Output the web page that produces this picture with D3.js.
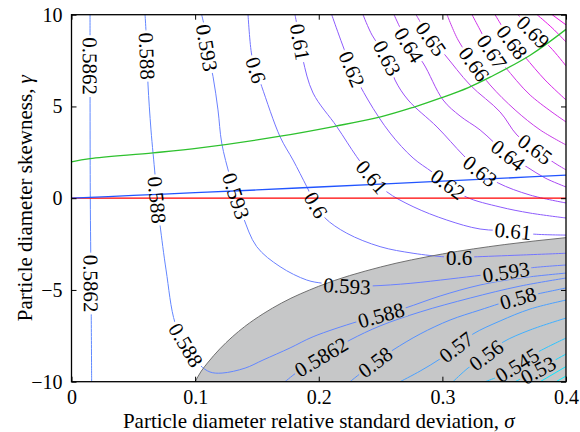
<!DOCTYPE html>
<html>
<head>
<meta charset="utf-8">
<script src="https://cdn.jsdelivr.net/npm/d3@7"></script>
<style>
  body { margin: 0; background: #fff; }
  svg text { font-family: "Liberation Serif", "Times New Roman", serif; fill: #000; }
</style>
</head>
<body>
<svg id="chart" width="580" height="432"></svg>
<script>
const xTicks = [0, 0.1, 0.2, 0.3, 0.4];
const yTicks = [-10, -5, 0, 5, 10];

// contour lines, [sigma, gamma] points
const c5862a = [[0.0150, 10], [0.0150, 7.20], [0.0152, 0], [0.0158, -4.65], [0.0163, -10]];
const c5862b = [[0.1727, -10], [0.1849, -9.36], [0.2019, -8.65], [0.2253, -7.73], [0.2496, -6.96], [0.2820, -6.20], [0.3225, -5.44], [0.3629, -4.79], [0.4001, -4.35]];
const c588 = [[0.0595, 10], [0.0603, 9.06], [0.0611, 7.75], [0.0619, 6.17], [0.0643, 3.72], [0.0676, 1.26], [0.0692, -0.10], [0.0716, -1.46], [0.0765, -3.91], [0.0838, -6.80], [0.0926, -8.00], [0.1039, -9.09], [0.1120, -9.47], [0.1218, -9.53], [0.1404, -9.26], [0.1549, -8.82], [0.1768, -8.16], [0.1954, -7.55], [0.2310, -6.73], [0.2504, -6.37], [0.2698, -5.99], [0.2982, -5.33], [0.3305, -4.73], [0.3629, -4.35], [0.4001, -4.08]];
const c58 = [[0.2253, -10], [0.2456, -8.93], [0.2601, -8.27], [0.2820, -7.40], [0.3062, -6.64], [0.3305, -6.09], [0.3612, -5.44], [0.3766, -5.22], [0.4001, -4.89]];
const c57 = [[0.2658, -10], [0.2820, -9.42], [0.2981, -8.76], [0.3111, -8.11], [0.3248, -7.40], [0.3467, -6.69], [0.3710, -6.04], [0.4001, -5.55]];
const c56 = [[0.3086, -10], [0.3208, -9.25], [0.3354, -8.55], [0.3491, -7.84], [0.3710, -7.18], [0.4001, -6.53]];
const c545 = [[0.3345, -10], [0.3443, -9.74], [0.3604, -9.09], [0.3774, -8.38], [0.4001, -7.62]];
const c53 = [[0.3588, -10], [0.3774, -9.36], [0.3928, -8.76], [0.4001, -8.49]];
const c515 = [[0.3791, -10], [0.4001, -9.17]];
const c50 = [[0.3920, -10], [0.4001, -9.69]];
const c593 = [[0.1053, 10], [0.1080, 9.17], [0.1096, 8.19], [0.1145, 6.62], [0.1185, 4.81], [0.1215, 3.01], [0.1282, 1.17], [0.1331, 0.12], [0.1388, -1.01], [0.1498, -2.64], [0.1687, -3.73], [0.1903, -4.46], [0.2035, -4.64], [0.2229, -4.78], [0.2431, -4.78], [0.2739, -4.64], [0.3062, -4.40], [0.3321, -4.19], [0.3515, -4.02], [0.3710, -3.80], [0.4001, -3.64]];
const c60 = [[0.1428, 10], [0.1458, 7.80], [0.1493, 6.99], [0.1539, 6.08], [0.1687, 3.35], [0.1792, 2.08], [0.1903, 0.63], [0.1978, -0.37], [0.2051, -1.08], [0.2227, -1.91], [0.2496, -2.64], [0.2763, -3.00], [0.3022, -3.20], [0.3135, -3.23], [0.3248, -3.20], [0.3629, -3.10], [0.4001, -3.00]];
const c61 = [[0.1808, 10], [0.1849, 8.51], [0.1873, 7.53], [0.1954, 5.73], [0.2146, 3.90], [0.2307, 2.26], [0.2431, 1.16], [0.2550, 0.35], [0.2763, -0.46], [0.3036, -1.19], [0.3305, -1.68], [0.3572, -1.79], [0.3726, -1.95], [0.4001, -2.01]];
const c62 = [[0.2105, 10], [0.2269, 7.04], [0.2399, 5.35], [0.2577, 3.55], [0.2763, 2.19], [0.2917, 1.43], [0.3046, 0.77], [0.3192, 0.07], [0.3467, -0.48], [0.3710, -0.81], [0.4001, -1.08]];
const c63 = [[0.2358, 10], [0.2431, 8.89], [0.2553, 7.64], [0.2617, 6.44], [0.2723, 5.35], [0.2957, 3.88], [0.3168, 2.35], [0.3305, 1.48], [0.3451, 0.83], [0.3710, 0.17], [0.4001, -0.26]];
const c64 = [[0.2609, 10], [0.2731, 8.35], [0.2844, 7.37], [0.3006, 5.35], [0.3143, 4.48], [0.3305, 3.72], [0.3532, 2.35], [0.3685, 1.70], [0.3831, 1.10], [0.4001, 0.61]];
const c65 = [[0.2787, 10], [0.2909, 8.68], [0.3022, 7.80], [0.3224, 6.17], [0.3467, 4.70], [0.3604, 3.44], [0.3750, 2.68], [0.3896, 1.97], [0.4001, 1.54]];
const c66 = [[0.3038, 10], [0.3127, 8.62], [0.3257, 7.31], [0.3386, 6.17], [0.3588, 4.81], [0.3791, 3.72], [0.4001, 2.90]];
const c67 = [[0.3240, 10], [0.3305, 9.17], [0.3402, 7.97], [0.3507, 7.15], [0.3710, 5.62], [0.4001, 4.15]];
const c68 = [[0.3426, 10], [0.3491, 9.28], [0.3564, 8.51], [0.3669, 7.69], [0.3831, 6.44], [0.4001, 5.35]];
const c69 = [[0.3612, 10], [0.3734, 9.06], [0.3871, 8.24], [0.4001, 7.20]];
const c70 = [[0.3766, 10], [0.3888, 9.28], [0.4001, 8.51]];
const c71 = [[0.3888, 10], [0.4001, 9.44]];

// level, points, indexes of the points that carry a label
const contours = [
  { level: 0.50, pts: c50, labels: [] },
  { level: 0.515, pts: c515, labels: [] },
  { level: 0.53, pts: c53, labels: [1] },
  { level: 0.545, pts: c545, labels: [2] },
  { level: 0.56, pts: c56, labels: [2] },
  { level: 0.57, pts: c57, labels: [3] },
  { level: 0.58, pts: c58, labels: [1, 6] },
  { level: 0.5862, pts: c5862a, labels: [1, 3] },
  { level: 0.5862, pts: c5862b, labels: [2] },
  { level: 0.588, pts: c588, labels: [2, 6, 10, 19] },
  { level: 0.593, pts: c593, labels: [2, 7, 13, 18] },
  { level: 0.6, pts: c60, labels: [2, 7, 13] },
  { level: 0.61, pts: c61, labels: [1, 6, 11] },
  { level: 0.62, pts: c62, labels: [1, 6] },
  { level: 0.63, pts: c63, labels: [2, 7] },
  { level: 0.64, pts: c64, labels: [1, 6] },
  { level: 0.65, pts: c65, labels: [1, 6] },
  { level: 0.66, pts: c66, labels: [2] },
  { level: 0.67, pts: c67, labels: [2] },
  { level: 0.68, pts: c68, labels: [2] },
  { level: 0.69, pts: c69, labels: [1] },
  { level: 0.70, pts: c70, labels: [] },
  { level: 0.71, pts: c71, labels: [] }
];

// reference curves
const redLine = [[0, 0], [0.4, 0]];
const blueLine = [[0, 0], [0.05, 0.15], [0.1, 0.30], [0.15, 0.45], [0.2, 0.61], [0.25, 0.77], [0.3, 0.93], [0.35, 1.09], [0.4, 1.26]];
const greenLine = [[0, 1.98], [0.015, 2.16], [0.066, 2.47], [0.104, 2.74], [0.169, 3.38], [0.213, 3.92], [0.25, 4.43], [0.276, 4.94], [0.3, 5.49], [0.321, 6.03], [0.339, 6.61], [0.371, 7.79], [0.4, 9.2]];
// edge of the grey (excluded) region
const grayEdge = [[0.1, -10], [0.105, -9.42], [0.11, -8.98], [0.12, -8.21], [0.13, -7.56], [0.14, -7.0], [0.155, -6.3], [0.17, -5.71], [0.2, -4.8], [0.25, -3.75], [0.3, -3.04], [0.35, -2.53], [0.4, -2.15]];

const serif = "'Liberation Serif', 'Times New Roman', serif";
const svg = d3.select("#chart");
const pLeft = 71.5, pRight = 566, pTop = 14.7, pBottom = 381.7;

const x = d3.scaleLinear().domain([0, 0.4]).range([pLeft, pRight]);
const y = d3.scaleLinear().domain([-10, 10]).range([pBottom, pTop]);

const color = d3.scaleLinear()
  .domain([0.50, 0.53, 0.56, 0.58, 0.593, 0.61, 0.63, 0.66, 0.71])
  .range(["#00f4ff", "#18d8ff", "#40b0ff", "#5590ff", "#6a80ff", "#8066ff", "#9a50f8", "#c63ce8", "#ee10e8"]);

const defs = svg.append("defs");
defs.append("clipPath").attr("id", "plotclip")
  .append("rect")
  .attr("x", pLeft).attr("y", pTop)
  .attr("width", pRight - pLeft).attr("height", pBottom - pTop);

// mask that cuts the contour lines under their labels
const mask = defs.append("mask").attr("id", "labelmask")
  .attr("maskUnits", "userSpaceOnUse")
  .attr("x", 0).attr("y", 0).attr("width", 580).attr("height", 432);
mask.append("rect").attr("width", 580).attr("height", 432).attr("fill", "white");

const plot = svg.append("g").attr("clip-path", "url(#plotclip)");

// grey region
plot.append("path")
  .datum(grayEdge)
  .attr("d", d3.area().x(d => x(d[0])).y0(y(-10)).y1(d => y(d[1])).curve(d3.curveMonotoneX))
  .attr("fill", "#c6c7c8");

const curve = d3.line().x(d => x(d[0])).y(d => y(d[1])).curve(d3.curveCatmullRom.alpha(0.5));

const lines = plot.append("g").attr("mask", "url(#labelmask)");
lines.selectAll("path")
  .data(contours)
  .enter()
  .append("path")
  .attr("d", d => curve(d.pts))
  .attr("fill", "none")
  .attr("stroke", d => color(d.level))
  .attr("stroke-width", 1);

plot.append("path")
  .datum(grayEdge)
  .attr("d", d3.line().x(d => x(d[0])).y(d => y(d[1])).curve(d3.curveMonotoneX))
  .attr("fill", "none")
  .attr("stroke", "#707070")
  .attr("stroke-width", 1);

plot.append("path").datum(redLine).attr("d", curve)
  .attr("fill", "none").attr("stroke", "#ff0000").attr("stroke-width", 1.3);
plot.append("path").datum(blueLine).attr("d", curve)
  .attr("fill", "none").attr("stroke", "#2255ff").attr("stroke-width", 1.3);
plot.append("path").datum(greenLine).attr("d", curve)
  .attr("fill", "none").attr("stroke", "#2ec12e").attr("stroke-width", 1.3);

// contour labels, turned along the line
const labelG = svg.append("g");
contours.forEach(c => {
  c.labels.forEach(i => {
    const a = c.pts[i - 1], b = c.pts[i + 1], p = c.pts[i];
    let ang = Math.atan2(y(b[1]) - y(a[1]), x(b[0]) - x(a[0])) * 180 / Math.PI;
    if (ang > 90) ang -= 180;
    if (ang < -90) ang += 180;
    const tr = "translate(" + x(p[0]) + "," + y(p[1]) + ")rotate(" + ang + ")";
    const t = labelG.append("text")
      .attr("transform", tr)
      .attr("text-anchor", "middle")
      .attr("dy", "0.35em")
      .attr("font-family", serif)
      .style("font-family", serif)
      .style("font-size", "21px")
      .text(String(c.level));
    const w = t.node().getComputedTextLength() + 4;
    mask.append("rect")
      .attr("transform", tr)
      .attr("x", -w / 2).attr("y", -8)
      .attr("width", w).attr("height", 16)
      .attr("fill", "black");
  });
});

// axes, ticks pointing inwards
const fmtX = d3.format("");
svg.append("g")
  .attr("transform", "translate(0," + pBottom + ")")
  .call(d3.axisBottom(x).tickValues(xTicks).tickFormat(fmtX).tickSizeInner(-5).tickSizeOuter(0).tickPadding(8))
  .call(g => g.select(".domain").remove());
svg.append("g")
  .attr("transform", "translate(0," + pTop + ")")
  .call(d3.axisTop(x).tickValues(xTicks).tickFormat("").tickSizeInner(-5).tickSizeOuter(0))
  .call(g => g.select(".domain").remove());
svg.append("g")
  .attr("transform", "translate(" + pLeft + ",0)")
  .call(d3.axisLeft(y).tickValues(yTicks).tickSizeInner(-5).tickSizeOuter(0).tickPadding(9))
  .call(g => g.select(".domain").remove());
svg.append("g")
  .attr("transform", "translate(" + pRight + ",0)")
  .call(d3.axisRight(y).tickValues(yTicks).tickFormat("").tickSizeInner(-5).tickSizeOuter(0))
  .call(g => g.select(".domain").remove());

svg.selectAll(".tick text")
  .attr("font-family", serif)
  .style("font-family", serif)
  .style("font-size", "20px");
svg.selectAll(".tick line").attr("stroke", "#000").attr("stroke-width", 1);

svg.append("rect")
  .attr("x", pLeft).attr("y", pTop)
  .attr("width", pRight - pLeft).attr("height", pBottom - pTop)
  .attr("fill", "none")
  .attr("stroke", "#000")
  .attr("stroke-width", 1.3);

// axis titles
const xt = svg.append("text")
  .attr("x", (pLeft + pRight) / 2).attr("y", 428)
  .attr("text-anchor", "middle")
  .style("font-size", "21px");
xt.append("tspan").text("Particle diameter relative standard deviation, ");
xt.append("tspan").style("font-style", "italic").text("σ");

const yt = svg.append("text")
  .attr("transform", "translate(32," + (pTop + pBottom) / 2 + ")rotate(-90)")
  .attr("text-anchor", "middle")
  .style("font-size", "21px");
yt.append("tspan").text("Particle diameter skewness, ");
yt.append("tspan").style("font-style", "italic").text("γ");
</script>
</body>
</html>
